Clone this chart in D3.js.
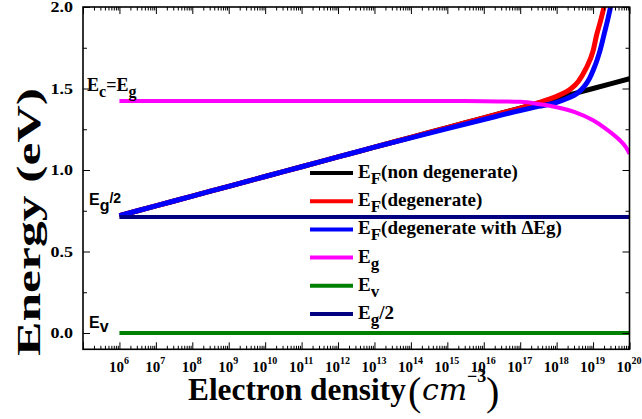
<!DOCTYPE html>
<html><head><meta charset="utf-8">
<script src="https://cdn.jsdelivr.net/npm/d3@7"></script>
<style>
html,body{margin:0;padding:0;background:#fff;}
svg{display:block;}
</style></head>
<body><svg id="c" width="642" height="419" font-family="Liberation Serif" font-weight="bold"></svg>
<script>
// ---- data ----
const xDomain = [1e5, 1e20];
const yDomain = [-0.1, 2.0];
const xTickExps = [6,7,8,9,10,11,12,13,14,15,16,17,18,19,20];
const yTickVals = [0.0, 0.5, 1.0, 1.5, 2.0];

const nonDegLog = [6,7,8,9,10,11,12,13,14,15,16,17,18,19,20];
const nonDegE   = [0.72,0.78,0.84,0.90,0.96,1.02,1.08,1.14,1.20,1.26,1.32,1.38,1.44,1.50,1.56];

const degLog = [6,7,8,9,10,11,12,13,14,15,16,17,17.5,17.8,18,18.2,18.4,18.6,18.8,19.0,19.1,19.2,19.3,19.4];
const degE   = [0.72,0.78,0.84,0.90,0.96,1.02,1.08,1.14,1.20,1.26,1.32,1.38,1.413,1.435,1.452,1.472,1.50,1.545,1.62,1.73,1.83,1.91,2.0,2.11];

const degBgnLog = [6,7,8,9,10,11,12,13,14,15,16,17,17.5,18,18.3,18.56,18.75,18.9,19.0,19.11,19.2,19.31,19.4,19.48,19.56];
const degBgnE   = [0.72,0.78,0.84,0.90,0.96,1.02,1.08,1.14,1.197,1.254,1.31,1.365,1.39,1.415,1.44,1.47,1.51,1.56,1.61,1.675,1.74,1.839,1.92,2.0,2.09];

const egLog = [6,7,8,9,10,11,12,13,14,15,16,17,17.5,18,18.5,19,19.4,19.7,19.9,20];
const egE   = [1.424,1.424,1.424,1.424,1.424,1.424,1.424,1.424,1.424,1.423,1.422,1.418,1.405,1.385,1.355,1.305,1.245,1.19,1.14,1.10];

const evLog = [6,20];   const evE = [0.0,0.0];
const halfLog = [6,20]; const halfE = [0.712,0.712];

const series = [
  {name:"F", label:"(non degenerate)", color:"#000000", w:5, log:nonDegLog, e:nonDegE},
  {name:"F", label:"(degenerate)", color:"#ff0000", w:5, log:degLog, e:degE},
  {name:"F", label:"(degenerate with \u0394Eg)", color:"#0000ff", w:5, log:degBgnLog, e:degBgnE},
  {name:"g", label:"", color:"#ff00ff", w:4, log:egLog, e:egE},
  {name:"v", label:"", color:"#008000", w:4, log:evLog, e:evE},
  {name:"g", label:"/2", color:"#000080", w:4, log:halfLog, e:halfE}
];

const SERIF = "Liberation Serif";
const SANS = "Liberation Sans";

// ---- layout ----
const L=83, R=629.5, T=7, B=349.3;
const svg = d3.select("#c");
const x = d3.scaleLog().domain(xDomain).range([L,R]);
const y = d3.scaleLinear().domain(yDomain).range([B,T]);

svg.append("clipPath").attr("id","clip").append("rect")
  .attr("x",L).attr("y",T).attr("width",R-L).attr("height",B-T);

const line = d3.line().x(d=>x(Math.pow(10,d[0]))).y(d=>y(d[1])).curve(d3.curveMonotoneX);
const g = svg.append("g").attr("clip-path","url(#clip)");
series.forEach(s=>{
  g.append("path").datum(s.log.map((l,i)=>[l,s.e[i]]))
   .attr("d",line).attr("fill","none").attr("stroke",s.color)
   .attr("stroke-width",s.w).attr("stroke-linecap","butt");
});

// ---- axes ----
const majors = d3.range(5,21).map(e=>Math.pow(10,e));
const minors = [];
for(let e=5;e<20;e++) for(let k=2;k<10;k++) minors.push(k*Math.pow(10,e));

function xAxis(gen, yy){
  const gm = svg.append("g").attr("transform",`translate(0,${yy})`)
    .call(gen(x).tickValues(minors).tickSize(-3.5).tickFormat(""));
  const gM = svg.append("g").attr("transform",`translate(0,${yy})`)
    .call(gen(x).tickValues(majors).tickSize(-7).tickFormat(""));
  [gm,gM].forEach(a=>{a.select(".domain").remove();a.selectAll("line").attr("stroke","#000").attr("stroke-width",1);});
}
xAxis(d3.axisBottom, B);
xAxis(d3.axisTop, T);

// bottom labels (10^n)
const lab = svg.append("g").attr("transform",`translate(0,${B})`)
  .call(d3.axisBottom(x).tickValues(xTickExps.map(e=>Math.pow(10,e))).tickSize(0).tickPadding(0).tickFormat(""));
lab.select(".domain").remove();
lab.attr("font-family",SERIF).attr("font-size",null);
lab.selectAll(".tick").each(function(d,i){
  const t = d3.select(this).append("text").attr("x",-1).attr("y",23).attr("text-anchor","middle")
    .attr("fill","#000").attr("font-family",SERIF).attr("font-weight","bold").attr("font-size",15);
  t.append("tspan").text("10");
  t.append("tspan").attr("dy",-8).attr("font-size",10).text(xTickExps[i]);
});

const yMinor = [0.25,0.75,1.25,1.75];
function yAxis(gen, xx, labels){
  const a1 = svg.append("g").attr("transform",`translate(${xx},0)`)
    .call(gen(y).tickValues(yMinor).tickSize(-4).tickFormat(""));
  const a2 = svg.append("g").attr("transform",`translate(${xx},0)`)
    .call(gen(y).tickValues(yTickVals).tickSize(-7).tickFormat(labels?d3.format(".1f"):""));
  [a1,a2].forEach(a=>{a.select(".domain").remove();a.selectAll("line").attr("stroke","#000").attr("stroke-width",1);});
  if(labels){
    a2.attr("font-family",SERIF).attr("font-size",15);
    a2.selectAll("text").attr("fill","#000").attr("font-family",SERIF).attr("font-weight","bold")
      .attr("font-size",15).attr("x",0).attr("text-anchor","end")
      .attr("transform","translate(-10,0) scale(1.2,1)");
  }
}
yAxis(d3.axisLeft, L, true);
yAxis(d3.axisRight, R, false);

// frame
svg.append("rect").attr("x",L).attr("y",T).attr("width",R-L).attr("height",B-T)
  .attr("fill","none").attr("stroke","#000").attr("stroke-width",1.6);

// ---- legend ----
const lg = svg.append("g");
series.forEach((s,i)=>{
  const yy = 173 + i*28.2;
  lg.append("line").attr("x1",310).attr("x2",353).attr("y1",yy).attr("y2",yy)
    .attr("stroke",s.color).attr("stroke-width",4);
  const t = lg.append("text").attr("x",358).attr("y",yy+5).attr("fill","#000")
    .attr("font-family",SERIF).attr("font-weight","bold").attr("font-size",19);
  t.append("tspan").text("E");
  t.append("tspan").attr("dy",6).attr("font-size",17).text(s.name);
  t.append("tspan").attr("dy",-6).text(s.label);
});

// ---- annotations ----
const a1 = svg.append("text").attr("x",87).attr("y",91).attr("fill","#000")
  .attr("font-family",SERIF).attr("font-weight","bold").attr("font-size",18);
a1.append("tspan").text("E");
a1.append("tspan").attr("dy",6).attr("font-size",16).text("c");
a1.append("tspan").attr("dy",-6).text("=E");
a1.append("tspan").attr("dy",6).attr("font-size",16).text("g");

const a2 = svg.append("text").attr("x",89).attr("y",205).attr("fill","#000")
  .attr("font-family",SANS).attr("font-weight","bold").attr("font-size",16);
a2.append("tspan").text("E");
a2.append("tspan").attr("dy",6).text("g");
a2.append("tspan").attr("dy",-8).attr("font-size",14).text("/2");

const a3 = svg.append("text").attr("x",89).attr("y",328).attr("fill","#000")
  .attr("font-family",SANS).attr("font-weight","bold").attr("font-size",16);
a3.append("tspan").text("E");
a3.append("tspan").attr("dy",4).text("v");

// ---- axis titles ----
const yt = svg.append("text").attr("fill","#000").attr("font-family",SERIF)
  .attr("font-weight","bold").attr("font-size",33).text("Energy (eV)");
const yl = yt.node().getComputedTextLength();
yt.attr("transform",`translate(40,356) rotate(-90) scale(${268/yl},1)`);

const xt = svg.append("text").attr("fill","#000").attr("font-family",SERIF)
  .attr("font-weight","bold").attr("font-size",32).text("Electron density");
const xl = xt.node().getComputedTextLength();
xt.attr("transform",`translate(188,400) scale(${218/xl},1)`);

const pp = (txt,xx,yy,size,italic,family,weight)=>svg.append("text").attr("x",xx).attr("y",yy)
  .attr("fill","#000").attr("font-family",family).attr("font-weight",weight||"normal")
  .attr("font-style",italic?"italic":"normal").attr("font-size",size).text(txt);
pp("(",408,405,40,false,SERIF);
pp("cm",422,400,30,true,"DejaVu Serif");
pp("\u22123",467,382,18,false,SERIF,"bold");
pp(")",486,405,40,false,SERIF);
</script></body></html>
